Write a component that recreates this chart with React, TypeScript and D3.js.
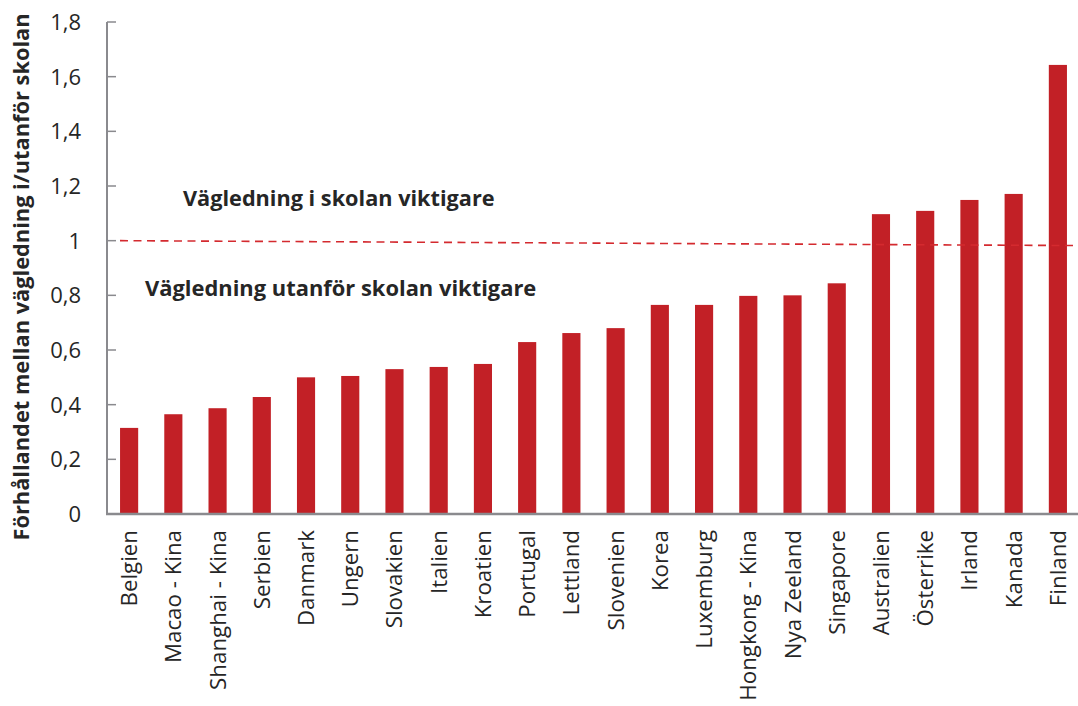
import React from "react";
import * as d3 from "d3";

const categories = [
  "Belgien", "Macao - Kina", "Shanghai - Kina", "Serbien", "Danmark", "Ungern",
  "Slovakien", "Italien", "Kroatien", "Portugal", "Lettland", "Slovenien", "Korea",
  "Luxemburg", "Hongkong - Kina", "Nya Zeeland", "Singapore", "Australien",
  "Österrike", "Irland", "Kanada", "Finland",
];
const values = [
  0.315, 0.365, 0.387, 0.428, 0.50, 0.505, 0.53, 0.538, 0.549, 0.629, 0.662, 0.68,
  0.765, 0.765, 0.798, 0.80, 0.844, 1.097, 1.109, 1.149, 1.171, 1.643,
];
const yTicks = [0, 0.2, 0.4, 0.6, 0.8, 1.0, 1.2, 1.4, 1.6, 1.8];
const refLine = [1.0, 0.982];
const yTitle = "Förhållandet mellan vägledning i/utanför skolan";
const noteAbove = "Vägledning i skolan viktigare";
const noteBelow = "Vägledning utanför skolan viktigare";

const W = 1078, H = 706;
const left = 107, right = 1080, top = 22, bottom = 514;
const FONT = "'Open Sans', sans-serif";
const RED = "#c22026";
const GRAY = "#8a8a8e";
const TXT = "#262626";

export default function App() {
  const x = d3.scaleBand<string>().domain(categories).range([left, right]).paddingInner(0.59).paddingOuter(0.295);
  const y = d3.scaleLinear().domain([0, 1.8]).range([bottom, top]);
  const fmt = (v: number) => (v === 0 ? "0" : v === 1 ? "1" : d3.format(".1f")(v).replace(".", ","));
  return (
    <svg width={W} height={H} style={{ position: "absolute", left: 0, top: 0, background: "#fff" }}>
      {categories.map((c, i) => (
        <rect key={c} x={x(c)} y={y(values[i])} width={x.bandwidth()} height={bottom - y(values[i])} fill={RED} />
      ))}
      <line x1={120} x2={1078} y1={y(refLine[0])} y2={y(refLine[1])} stroke="#d42a2f" strokeWidth={1.6} strokeDasharray="8,5.5" />
      <line x1={left} x2={left} y1={top} y2={bottom} stroke={GRAY} strokeWidth={2} />
      {yTicks.map((t) => (
        <g key={t}>
          <line x1={left} x2={left + 9} y1={y(t)} y2={y(t)} stroke={GRAY} strokeWidth={1.5} />
          <text x={81} y={y(t)} dy="0.36em" textAnchor="end" fontFamily={FONT} fontSize={22} fill={TXT}>{fmt(t)}</text>
        </g>
      ))}
      <line x1={left - 1} x2={W} y1={bottom} y2={bottom} stroke={GRAY} strokeWidth={2.5} />
      {categories.map((c) => {
        const cx = (x(c) as number) + x.bandwidth() / 2;
        return (
          <text key={c} transform={`translate(${cx + 8},${530}) rotate(-90)`} textAnchor="end" fontFamily={FONT} fontSize={22.3} fill={TXT}>{c}</text>
        );
      })}
      <text transform={`translate(29,${277}) rotate(-90)`} textAnchor="middle" fontFamily={FONT} fontWeight="bold" fontSize={21.8} fill={TXT}>{yTitle}</text>
      <text x={183} y={206} fontFamily={FONT} fontWeight="bold" fontSize={21.7} fill={TXT}>{noteAbove}</text>
      <text x={145} y={296} fontFamily={FONT} fontWeight="bold" fontSize={21.9} fill={TXT}>{noteBelow}</text>
    </svg>
  );
}
